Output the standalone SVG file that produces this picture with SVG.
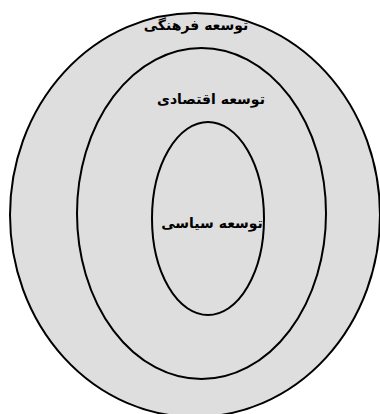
<svg xmlns="http://www.w3.org/2000/svg" width="380" height="414" viewBox="0 0 380 414">
<style>
.e{fill:#dedede;stroke:#000;stroke-width:2}
.t{font-family:"DejaVu Sans","Liberation Serif",sans-serif;font-weight:bold;font-size:14px;fill:#000;text-anchor:middle;direction:rtl}
</style>
<rect width="380" height="414" fill="#fff"/>
<g id="outer"><ellipse class="e" cx="195" cy="215" rx="185" ry="202"/><text class="t" x="196" y="30">توسعه فرهنگی</text></g>
<g id="middle"><ellipse class="e" cx="201.5" cy="213.5" rx="124.5" ry="165.5"/><text class="t" x="211" y="104">توسعه اقتصادی</text></g>
<g id="inner"><ellipse class="e" cx="208" cy="218.5" rx="56" ry="96.5"/><text class="t" x="212" y="228">توسعه سیاسی</text></g>
</svg>
